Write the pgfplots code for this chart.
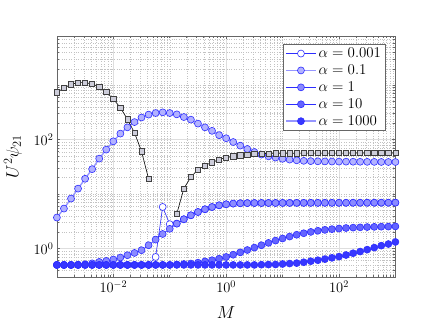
\RequirePackage{fix-cm}
\documentclass[border=0pt]{standalone}
\usepackage{pgfplots}
\pgfplotsset{compat=1.18}
\usepackage{pgfplotstable}

\definecolor{edgeblue}{RGB}{45,45,255}
\definecolor{lineblue}{RGB}{150,150,255}
\definecolor{fillB}{RGB}{178,178,255}
\definecolor{fillC}{RGB}{138,138,255}
\definecolor{fillD}{RGB}{100,100,255}
\definecolor{fillE}{RGB}{55,55,255}
\definecolor{sqfill}{RGB}{205,205,218}

% x = logspace(-3,3,49)
\pgfplotstableread{
x          a001  a01   a1    a10   a1000  sq
0.001      0.5   3.71  0.5   0.5   0.5    738
0.0013335  0.5   5.42  0.5   0.5   0.5    885
0.0017783  0.5   8.27  0.5   0.5   0.5    1035
0.0023714  0.5   12.6  0.505 0.5   0.5    1111
0.0031623  0.5   19.1  0.515 0.5   0.5    1120
0.004217   0.5   28.7  0.535 0.5   0.5    1048
0.0056234  0.5   44.8  0.568 0.5   0.5    938
0.0074989  0.5   65.6  0.592 0.5   0.5    747
0.01       0.5   93.1  0.629 0.5   0.5    556
0.013335   0.5   129   0.684 0.5   0.5    387
0.017783   0.5   168   0.754 0.5   0.5    236
0.023714   0.5   210   0.83  0.5   0.5    134
0.031623   0.5   255   0.931 0.5   0.5    61
0.04217    0.5   288   1.15  0.5   0.5    19.1
0.056234   0.7   308   1.46  0.5   0.5    nan
0.074989   5.8   317   1.85  0.5   0.5    nan
0.1        2.8   308   2.3   0.5   0.5    nan
0.13335    2.87  291   2.87  0.51  0.5    4.35
0.17783    3.45  260   3.45  0.52  0.5    12.6
0.23714    4.08  233   4.08  0.53  0.5    20.6
0.31623    4.69  197   4.69  0.55  0.5    28.2
0.4217     5.26  168   5.26  0.58  0.5    33.5
0.56234    5.79  145   5.79  0.61  0.5    38.3
0.74989    6.22  121   6.22  0.65  0.5    43.1
1          6.5   106   6.5   0.7   0.5    46.7
1.3335     6.69  90.4  6.69  0.77  0.5    49.4
1.7783     6.78  77.6  6.78  0.85  0.5    51.5
2.3714     6.83  67.3  6.83  0.94  0.5    53.1
3.1623     6.85  59.2  6.85  1.04  0.5    54.4
4.217      6.86  53.1  6.86  1.15  0.505  55.4
5.6234     6.87  49.4  6.87  1.27  0.508  55.8
7.4989     6.87  46.8  6.87  1.40  0.51   56.0
10         6.88  44.5  6.88  1.53  0.52   56.1
13.335     6.88  43.0  6.88  1.66  0.53   56.2
17.783     6.89  41.7  6.89  1.79  0.54   56.3
23.714     6.89  40.8  6.89  1.91  0.56   56.4
31.623     6.9   40.3  6.9   2.02  0.585  56.4
42.17      6.9   40.0  6.9   2.12  0.61   56.5
56.234     6.91  39.8  6.91  2.2   0.64   56.5
74.989     6.91  39.6  6.91  2.27  0.675  56.6
100        6.92  39.5  6.92  2.33  0.71   56.6
133.35     6.92  39.4  6.92  2.38  0.76   56.6
177.83     6.93  39.3  6.93  2.42  0.82   56.7
237.14     6.93  39.2  6.93  2.45  0.88   56.7
316.23     6.94  39.1  6.94  2.48  0.955  56.7
421.7      6.94  39.0  6.94  2.5   1.04   56.8
562.34     6.95  38.9  6.95  2.52  1.13   56.8
749.89     6.95  38.85 6.95  2.53  1.21   56.8
1000       6.96  38.8  6.96  2.55  1.32   56.8
}\data

\begin{document}
\begin{tikzpicture}[x=1bp,y=1bp]
\path[use as bounding box] (0,0) rectangle (436,327);
\begin{axis}[
    at={(56.9bp,50bp)}, anchor=south west,
    width=338.5bp, height=241bp, scale only axis,
    xmode=log, ymode=log,
    xmin=1e-3, xmax=1e3, ymin=0.3, ymax=8000,
    xtick={0.01,1,100}, ytick={1,100},
    minor xtick={0.002,0.003,0.004,0.005,0.006,0.007,0.008,0.009,
        0.02,0.03,0.04,0.05,0.06,0.07,0.08,0.09,0.1,
        0.2,0.3,0.4,0.5,0.6,0.7,0.8,0.9,
        2,3,4,5,6,7,8,9,10,20,30,40,50,60,70,80,90,
        200,300,400,500,600,700,800,900},
    minor ytick={0.4,0.5,0.6,0.7,0.8,0.9,2,3,4,5,6,7,8,9,10,
        20,30,40,50,60,70,80,90,200,300,400,500,600,700,800,900,1000,
        2000,3000,4000,5000,6000,7000},
    grid=both,
    major grid style={solid, black!13},
    minor grid style={dotted, black!24},
    tick align=inside,
    major tick length=3.5bp, minor tick length=2bp,
    axis line style={black!60, line width=0.6pt},
    every tick/.style={black!60, line width=0.5pt},
    tick label style={font=\fontsize{14.5}{17}\selectfont},
    label style={font=\fontsize{17.5}{20}\selectfont},
    xlabel={$M$},
    ylabel={$U^2\psi_{21}$},
    xlabel style={at={(axis description cs:0.5,-0.149)}, anchor=center},
    ylabel style={at={(axis description cs:-0.13,0.5)}, anchor=center, rotate=0},
    unbounded coords=jump,
    legend style={at={(0.970,0.9656)}, anchor=north east, draw=black!60, fill=white,
        font=\fontsize{15}{18}\selectfont, row sep=1.8bp, inner xsep=2bp, inner ysep=1.5bp},
    legend cell align=left,
    legend image code/.code={\draw[mark repeat=2,mark phase=2,#1] plot coordinates {(0bp,0bp)(15bp,0bp)(30bp,0bp)};},
]
\addplot[edgeblue, line width=0.6pt, mark=*, mark size=3.5bp,
    mark options={fill=white, draw=edgeblue, line width=0.6pt, solid}]
    table[x=x, y=a001]{\data};
\addlegendentry{$\alpha = 0.001$}
\addplot[lineblue, line width=1.4pt, mark=*, mark size=3.5bp,
    mark options={fill=fillB, draw=edgeblue, line width=0.6pt, solid}]
    table[x=x, y=a01]{\data};
\addlegendentry{$\alpha = 0.1$}
\addplot[edgeblue, line width=0.6pt, mark=*, mark size=3.5bp,
    mark options={fill=fillC, draw=edgeblue, line width=0.6pt, solid}]
    table[x=x, y=a1]{\data};
\addlegendentry{$\alpha = 1$}
\addplot[edgeblue, line width=0.6pt, mark=*, mark size=3.5bp,
    mark options={fill=fillD, draw=edgeblue, line width=0.6pt, solid}]
    table[x=x, y=a10]{\data};
\addlegendentry{$\alpha = 10$}
\addplot[lineblue, line width=1.4pt, mark=*, mark size=3.5bp,
    mark options={fill=fillE, draw=edgeblue, line width=0.6pt, solid}]
    table[x=x, y=a1000]{\data};
\addlegendentry{$\alpha = 1000$}
\addplot[black, line width=0.6pt, mark=square*, mark size=2.6bp,
    mark options={fill=sqfill, draw=black!75, line width=0.6pt, solid}, forget plot]
    table[x=x, y=sq]{\data};
\end{axis}
\end{tikzpicture}
\end{document}
